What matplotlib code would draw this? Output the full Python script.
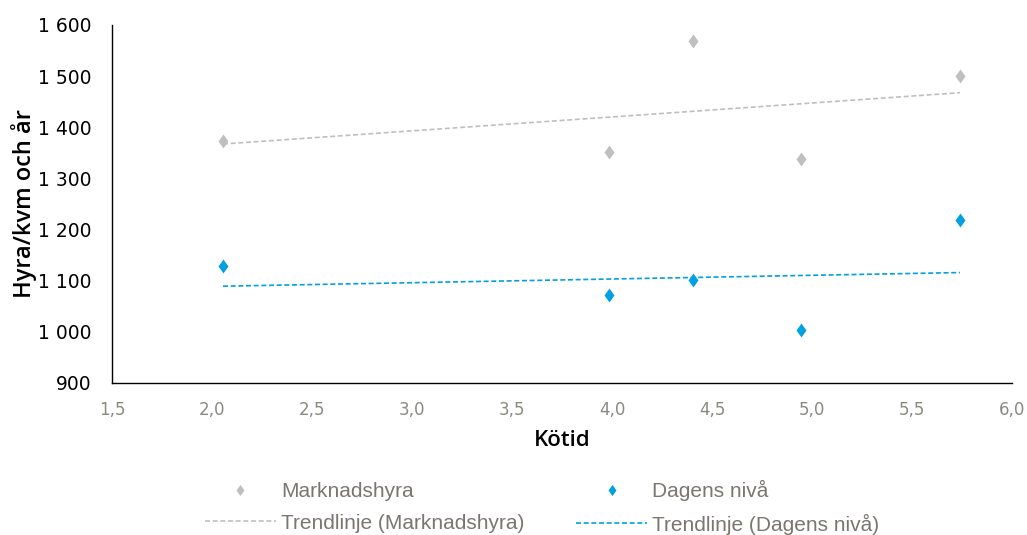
import numpy as np
import matplotlib
matplotlib.use("Agg")
import matplotlib.pyplot as plt
from matplotlib.lines import Line2D
from matplotlib.ticker import FuncFormatter

# Data
kotid = [2.055, 3.985, 4.405, 4.945, 5.74]
marknadshyra = [1373, 1352, 1569, 1338, 1500]
dagens_niva = [1129, 1072, 1101, 1004, 1219]
series_labels = ["Marknadshyra", "Dagens nivå",
                 "Trendlinje (Marknadshyra)", "Trendlinje (Dagens nivå)"]
x_ticks = [1.5, 2.0, 2.5, 3.0, 3.5, 4.0, 4.5, 5.0, 5.5, 6.0]
y_ticks = [900, 1000, 1100, 1200, 1300, 1400, 1500, 1600]

gray = "#BFBFBF"
blue = "#00A0E3"
tickgray = "#8A8A80"
legtext = "#7A7670"
diamond = [(-0.72, 0), (0, 1), (0.72, 0), (0, -1), (-0.72, 0)]
dash = (0, (3, 1.6))

fig = plt.figure(figsize=(10.27, 5.35), dpi=100)
ax = fig.add_axes([112/1027, 1-383/535, 900/1027, 358/535])

x = np.array(kotid)
for ys, c in [(marknadshyra, gray), (dagens_niva, blue)]:
    ax.plot(x, ys, ls="none", marker=diamond, markersize=10, color=c,
            markeredgewidth=0, zorder=3)
    m, b = np.polyfit(x, ys, 1)
    xx = np.array([x.min(), x.max()])
    ax.plot(xx, m*xx + b, color=c, lw=1.2, ls=dash, zorder=2)

ax.set_xlim(1.5, 6.0)
ax.set_ylim(900, 1600)
ax.set_xticks(x_ticks)
ax.set_yticks(y_ticks)
ax.xaxis.set_major_formatter(FuncFormatter(lambda v, p: f"{v:.1f}".replace(".", ",")))
ax.yaxis.set_major_formatter(FuncFormatter(lambda v, p: f"{int(v):,}".replace(",", " ")))
for s in ["top", "right"]:
    ax.spines[s].set_visible(False)
for s in ["left", "bottom"]:
    ax.spines[s].set_color("#000000")
    ax.spines[s].set_linewidth(1.0)
ax.tick_params(axis="both", length=0)
ax.tick_params(axis="y", labelsize=13.5, labelcolor="#000000", pad=15)
ax.tick_params(axis="x", labelsize=12, labelcolor=tickgray, pad=13)
for lab in ax.get_xticklabels() + ax.get_yticklabels():
    lab.set_family("DejaVu Sans")

ax.set_xlabel("Kötid", fontsize=16, fontweight="semibold",
              family=["Open Sans", "DejaVu Sans"], labelpad=8)
ax.set_ylabel("Hyra/kvm och år", fontsize=17, fontweight="semibold",
              family=["Open Sans", "DejaVu Sans"], labelpad=0.5)

h_m = Line2D([], [], marker=diamond, color=gray, ls="none", markersize=8, markeredgewidth=0)
h_d = Line2D([], [], marker=diamond, color=blue, ls="none", markersize=8, markeredgewidth=0)
h_tm = Line2D([], [], color=gray, lw=1.2, ls=dash)
h_td = Line2D([], [], color=blue, lw=1.2, ls=dash)
handles = [h_m, h_tm, h_d, h_td]
labels = [series_labels[0], series_labels[2], series_labels[1], series_labels[3]]
leg = fig.legend(handles, labels, ncol=2, loc="center",
                 bbox_to_anchor=(0.528, 0.0514), frameon=False,
                 prop={"family": "Liberation Sans", "size": 15},
                 handlelength=3.4, columnspacing=2.5, handletextpad=0.25,
                 labelspacing=0.59, borderpad=0.2)
for t in leg.get_texts():
    t.set_color(legtext)

fig.savefig("out.png", dpi=100)
